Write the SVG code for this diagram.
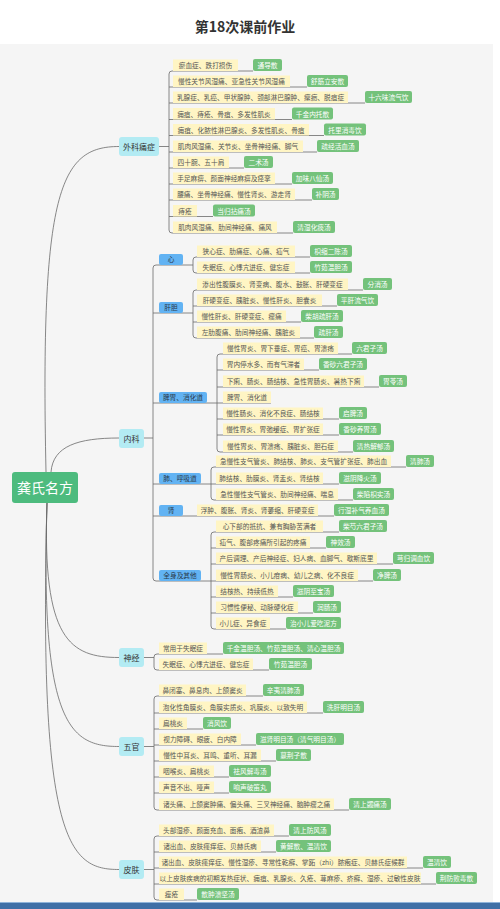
<svg xmlns="http://www.w3.org/2000/svg" width="500" height="909" viewBox="0 0 500 909">
<style>
.f{font-family:"Noto Sans CJK SC","Noto Sans",sans-serif}
.ly{fill:#fff5c4}
.lg{fill:#74c27b}
.nb{fill:#62b3f3}
.nc{fill:#b3ebf3}
.t{font-size:6.7px;fill:#555555;text-anchor:middle}
.tw{font-size:6.7px;fill:#ffffff;text-anchor:middle}
.tc{font-size:8px;fill:#333;text-anchor:middle}
.tb{font-size:6.7px;fill:#2a3a4a;text-anchor:middle}
.cn{fill:none;stroke:#6a6a6a;stroke-width:0.8}
</style>
<rect x="0" y="0" width="500" height="909" fill="#ffffff"/>
<rect x="0" y="44" width="493" height="858" fill="#f5f5f5"/>
<rect x="0" y="902" width="500" height="7" fill="#3f6fa6"/>
<rect x="0" y="902" width="500" height="1" fill="#8fb3d9"/>
<text class="f" x="245" y="32" font-size="14" font-weight="bold" fill="#333" text-anchor="middle">第18次课前作业</text>

<g id="connectors" class="cn">
<path d="M46 472 C40 190 60 146.5 119 146.5"/>
<path d="M51 472 C53 446 78 438 119 438"/>
<path d="M47 503 C42 640 70 657.5 119 657.5"/>
<path d="M47 503 C40 725 70 746.5 119 746.5"/>
<path d="M47 503 C38 845 70 869.5 119 869.5"/>
<path d="M159 146.5 H169"/>
<path d="M172 71 Q169 71 169 74 V230 Q169 233 172 233"/>
<path d="M172 71 H253 M169 87 H307 M169 103 H365 M169 119.5 H292 M169 135.5 H324 M169 152 H317 M169 168 H244 M169 184 H292 M169 200 H312 M169 216.5 H213 M172 233 H293"/>
<path d="M144 438 H153"/>
<path d="M156 265 Q153 265 153 268 V578 Q153 581 156 581"/>
<path d="M156 265 H193 M153 313 H193 M153 403 H217 M153 484 H211 M153 516 H334 M156 581 H211"/>
<path d="M196 257 Q193 257 193 260 V270 Q193 273 196 273 M196 257 H310 M196 273 H310"/>
<path d="M196 290 Q193 290 193 293 V335 Q193 338 196 338 M196 290 H363 M193 306 H337 M193 322 H301 M196 338 H314"/>
<path d="M220 354 Q217 354 217 357 V449 Q217 452 220 452 M220 354 H352 M217 370 H319 M217 387 H379 M217 403 H271 M217 419 H339 M217 435 H339 M220 452 H353"/>
<path d="M214 467 Q211 467 211 470 V497 Q211 500 214 500 M214 467 H406 M211 484 H339 M214 500 H353"/>
<path d="M214 532 Q211 532 211 535 V626 Q211 629 214 629 M214 532 H339 M211 548 H326 M211 564 H393 M211 581 H373 M211 597 H293 M211 613 H313 M214 629 H286"/>
<path d="M144 657.5 H154"/>
<path d="M157 654 Q154 654 154 657 V667 Q154 670 157 670 M157 654 H223 M157 670 H269"/>
<path d="M144 746.5 H154"/>
<path d="M157 696 Q154 696 154 699 V807 Q154 810 157 810 M157 696 H263 M154 713 H323 M154 729 H203 M154 745 H256 M154 761 H276 M154 777 H229 M154 793 H229 M157 810 H349"/>
<path d="M144 869.5 H154"/>
<path d="M157 836 Q154 836 154 839 V897 Q154 900 157 900 M157 836 H289 M154 852 H276 M154 868 H423 M154 884 H436 M157 900 H197"/>
</g>

<g id="root"><rect x="12" y="472" width="66" height="31" rx="3" fill="#4dbb7e"/><text class="f" x="45" y="492.5" font-size="14" fill="#fff" text-anchor="middle">龚氏名方</text></g>

<g id="cat-waike"><rect class="nc" x="119" y="137" width="40" height="19" rx="3"/><text class="f tc" x="139" y="149.5">外科痛症</text></g>
<g id="cat-neike"><rect class="nc" x="119" y="429" width="25" height="19" rx="3"/><text class="f tc" x="131.5" y="441.5">内科</text></g>
<g id="cat-shenjing"><rect class="nc" x="119" y="648" width="25" height="19" rx="3"/><text class="f tc" x="131.5" y="660.5">神经</text></g>
<g id="cat-wuguan"><rect class="nc" x="119" y="737" width="25" height="19" rx="3"/><text class="f tc" x="131.5" y="749.5">五官</text></g>
<g id="cat-pifu"><rect class="nc" x="119" y="860" width="25" height="19" rx="3"/><text class="f tc" x="131.5" y="872.5">皮肤</text></g>

<g id="sub-xin"><rect class="nb" x="159" y="254" width="24" height="11" rx="2"/><text class="f tb" x="171" y="262">心</text></g>
<g id="sub-gandan"><rect class="nb" x="159" y="302" width="24" height="11" rx="2"/><text class="f tb" x="171" y="310">肝胆</text></g>
<g id="sub-piwei"><rect class="nb" x="159" y="392" width="48" height="11" rx="2"/><text class="f tb" x="183" y="400">脾胃、消化道</text></g>
<g id="sub-fei"><rect class="nb" x="159" y="473" width="42" height="11" rx="2"/><text class="f tb" x="180" y="481">肺、呼吸道</text></g>
<g id="sub-shen"><rect class="nb" x="159" y="505" width="24" height="11" rx="2"/><text class="f tb" x="171" y="513">肾</text></g>
<g id="sub-quanshen"><rect class="nb" x="159" y="570" width="42" height="11" rx="2"/><text class="f tb" x="180" y="578">全身及其他</text></g>

<g id="w1"><rect class="ly" x="173" y="59.5" width="65" height="11.5"/><text class="f t" x="205.5" y="68">瘀血症、跌打损伤</text><rect class="lg" x="253" y="59" width="29" height="12" rx="2"/><text class="f tw" x="267.5" y="68">通导散</text></g>
<g id="w2"><rect class="ly" x="173" y="75.5" width="117" height="11.5"/><text class="f t" x="231.5" y="84">慢性关节风湿痛、亚急性关节风湿痛</text><rect class="lg" x="307" y="75" width="41" height="12" rx="2"/><text class="f tw" x="327.5" y="84">舒筋立安散</text></g>
<g id="w3"><rect class="ly" x="173" y="91.5" width="175" height="11.5"/><text class="f t" x="260.5" y="100">乳腺症、乳癌、甲状腺肿、颈部淋巴腺肿、瘰疬、脱疽症</text><rect class="lg" x="365" y="91" width="47" height="12" rx="2"/><text class="f tw" x="388.5" y="100">十六味流气饮</text></g>
<g id="w4"><rect class="ly" x="173" y="108" width="102" height="11.5"/><text class="f t" x="224" y="116.5">痈疽、痔疮、骨疽、多发性肌炎</text><rect class="lg" x="292" y="107.5" width="41" height="12" rx="2"/><text class="f tw" x="312.5" y="116.5">千金内托散</text></g>
<g id="w5"><rect class="ly" x="173" y="124" width="136" height="11.5"/><text class="f t" x="241" y="132.5">痈疽、化脓性淋巴腺炎、多发性肌炎、骨疽</text><rect class="lg" x="324" y="123.5" width="42" height="12" rx="2"/><text class="f tw" x="345" y="132.5">托里消毒饮</text></g>
<g id="w6"><rect class="ly" x="173" y="140.5" width="130" height="11.5"/><text class="f t" x="238" y="149">肌肉风湿痛、关节炎、坐骨神经痛、脚气</text><rect class="lg" x="317" y="140" width="42" height="12" rx="2"/><text class="f tw" x="338" y="149">疏经活血汤</text></g>
<g id="w7"><rect class="ly" x="173" y="156.5" width="56" height="11.5"/><text class="f t" x="201" y="165">四十腕、五十肩</text><rect class="lg" x="244" y="156" width="29" height="12" rx="2"/><text class="f tw" x="258.5" y="165">二术汤</text></g>
<g id="w8"><rect class="ly" x="173" y="172.5" width="102" height="11.5"/><text class="f t" x="224" y="181">手足麻痹、颜面神经麻痹及痉挛</text><rect class="lg" x="292" y="172" width="41" height="12" rx="2"/><text class="f tw" x="312.5" y="181">加味八仙汤</text></g>
<g id="w9"><rect class="ly" x="173" y="188.5" width="122" height="11.5"/><text class="f t" x="234" y="197">腰痛、坐骨神经痛、慢性肾炎、游走肾</text><rect class="lg" x="312" y="188" width="27" height="12" rx="2"/><text class="f tw" x="325.5" y="197">补阴汤</text></g>
<g id="w10"><rect class="ly" x="173" y="205" width="24" height="11.5"/><text class="f t" x="185" y="213.5">痔疮</text><rect class="lg" x="213" y="204.5" width="42" height="12" rx="2"/><text class="f tw" x="234" y="213.5">当归拈痛汤</text></g>
<g id="w11"><rect class="ly" x="173" y="221.5" width="104" height="11.5"/><text class="f t" x="225" y="230">肌肉风湿痛、肋间神经痛、痛风</text><rect class="lg" x="293" y="221" width="42" height="12" rx="2"/><text class="f tw" x="314" y="230">清湿化痰汤</text></g>

<g id="x1"><rect class="ly" x="197" y="245.5" width="98" height="11.5"/><text class="f t" x="246" y="254">狭心症、肋痛症、心痛、疝气</text><rect class="lg" x="310" y="245" width="42" height="12" rx="2"/><text class="f tw" x="331" y="254">枳缩二陈汤</text></g>
<g id="x2"><rect class="ly" x="197" y="261.5" width="98" height="11.5"/><text class="f t" x="246" y="270">失眠症、心悸亢进症、健忘症</text><rect class="lg" x="310" y="261" width="42" height="12" rx="2"/><text class="f tw" x="331" y="270">竹茹温胆汤</text></g>
<g id="g1"><rect class="ly" x="197" y="278.5" width="151" height="11.5"/><text class="f t" x="272.5" y="287">渗出性腹膜炎、肾变病、腹水、鼓胀、肝硬变症</text><rect class="lg" x="363" y="278" width="29" height="12" rx="2"/><text class="f tw" x="377.5" y="287">分消汤</text></g>
<g id="g2"><rect class="ly" x="197" y="294.5" width="125" height="11.5"/><text class="f t" x="259.5" y="303">肝硬变症、胰脏炎、慢性肝炎、胆囊炎</text><rect class="lg" x="337" y="294" width="41" height="12" rx="2"/><text class="f tw" x="357.5" y="303">平肝流气饮</text></g>
<g id="g3"><rect class="ly" x="197" y="310.5" width="89" height="11.5"/><text class="f t" x="241.5" y="319">慢性肝炎、肝硬变症、瘤痛</text><rect class="lg" x="301" y="310" width="42" height="12" rx="2"/><text class="f tw" x="322" y="319">柴胡疏肝汤</text></g>
<g id="g4"><rect class="ly" x="197" y="326.5" width="103" height="11.5"/><text class="f t" x="248.5" y="335">左肋腹痛、肋间神经痛、胰脏炎</text><rect class="lg" x="314" y="326" width="29" height="12" rx="2"/><text class="f tw" x="328.5" y="335">疏肝汤</text></g>
<g id="p1"><rect class="ly" x="223" y="342.5" width="115" height="11.5"/><text class="f t" x="280.5" y="351">慢性胃炎、胃下垂症、胃癌、胃溃疡</text><rect class="lg" x="352" y="342" width="35" height="12" rx="2"/><text class="f tw" x="369.5" y="351">六君子汤</text></g>
<g id="p2"><rect class="ly" x="223" y="358.5" width="81" height="11.5"/><text class="f t" x="263.5" y="367">胃内停水多、而有气滞者</text><rect class="lg" x="319" y="358" width="48" height="12" rx="2"/><text class="f tw" x="343" y="367">香砂六君子汤</text></g>
<g id="p3"><rect class="ly" x="223" y="375.5" width="141" height="11.5"/><text class="f t" x="293.5" y="384">下痢、肠炎、肠结核、急性胃肠炎、暑热下痢</text><rect class="lg" x="379" y="375" width="28" height="12" rx="2"/><text class="f tw" x="393" y="384">胃苓汤</text></g>
<g id="p4"><rect class="ly" x="223" y="391.5" width="48" height="11.5"/><text class="f t" x="247" y="400">脾胃、消化道</text></g>
<g id="p5"><rect class="ly" x="223" y="407.5" width="100" height="11.5"/><text class="f t" x="273" y="416">慢性肠炎、消化不良症、肠结核</text><rect class="lg" x="339" y="407" width="28" height="12" rx="2"/><text class="f tw" x="353" y="416">启脾汤</text></g>
<g id="p6"><rect class="ly" x="223" y="423.5" width="100" height="11.5"/><text class="f t" x="273" y="432">慢性胃炎、胃弛缓症、胃扩张症</text><rect class="lg" x="339" y="423" width="42" height="12" rx="2"/><text class="f tw" x="360" y="432">香砂养胃汤</text></g>
<g id="p7"><rect class="ly" x="223" y="440.5" width="115" height="11.5"/><text class="f t" x="280.5" y="449">慢性胃炎、胃溃疡、胰脏炎、胆石症</text><rect class="lg" x="353" y="440" width="41" height="12" rx="2"/><text class="f tw" x="373.5" y="449">清热解郁汤</text></g>
<g id="f1"><rect class="ly" x="216" y="455.5" width="175" height="11.5"/><text class="f t" x="303.5" y="464">急慢性支气管炎、肺结核、肺炎、支气管扩张症、肺出血</text><rect class="lg" x="406" y="455" width="28" height="12" rx="2"/><text class="f tw" x="420" y="464">清肺汤</text></g>
<g id="f2"><rect class="ly" x="216" y="472.5" width="107" height="11.5"/><text class="f t" x="269.5" y="481">肺结核、肋膜炎、肾盂炎、肾结核</text><rect class="lg" x="339" y="472" width="42" height="12" rx="2"/><text class="f tw" x="360" y="481">滋阴降火汤</text></g>
<g id="f3"><rect class="ly" x="216" y="488.5" width="122" height="11.5"/><text class="f t" x="277" y="497">急性慢性支气管炎、肋间神经痛、喘息</text><rect class="lg" x="353" y="488" width="41" height="12" rx="2"/><text class="f tw" x="373.5" y="497">柴陷枳实汤</text></g>
<g id="s1"><rect class="ly" x="197" y="504.5" width="121" height="11.5"/><text class="f t" x="257.5" y="513">浮肿、腹胀、肾炎、肾萎缩、肝硬变症</text><rect class="lg" x="334" y="504" width="55" height="12" rx="2"/><text class="f tw" x="361.5" y="513">行湿补气养血汤</text></g>
<g id="q1"><rect class="ly" x="216" y="520.5" width="107" height="11.5"/><text class="f t" x="269.5" y="529">心下部的抵抗、兼有胸胁苦满者</text><rect class="lg" x="339" y="520" width="48" height="12" rx="2"/><text class="f tw" x="363" y="529">柴芍六君子汤</text></g>
<g id="q2"><rect class="ly" x="216" y="536.5" width="94" height="11.5"/><text class="f t" x="263" y="545">疝气、腹部疼痛所引起的疼痛</text><rect class="lg" x="326" y="536" width="29" height="12" rx="2"/><text class="f tw" x="340.5" y="545">神效汤</text></g>
<g id="q3"><rect class="ly" x="216" y="552.5" width="161" height="11.5"/><text class="f t" x="296.5" y="561">产后调理、产后神经症、妇人病、血脚气、歇斯底里</text><rect class="lg" x="393" y="552" width="41" height="12" rx="2"/><text class="f tw" x="413.5" y="561">芎归调血饮</text></g>
<g id="q4"><rect class="ly" x="216" y="569.5" width="142" height="11.5"/><text class="f t" x="287" y="578">慢性胃肠炎、小儿疳病、幼儿之病、化不良症</text><rect class="lg" x="373" y="569" width="28" height="12" rx="2"/><text class="f tw" x="387" y="578">净脾汤</text></g>
<g id="q5"><rect class="ly" x="216" y="585.5" width="62" height="11.5"/><text class="f t" x="247" y="594">结核热、持续低热</text><rect class="lg" x="293" y="585" width="41" height="12" rx="2"/><text class="f tw" x="313.5" y="594">滋阴至宝汤</text></g>
<g id="q6"><rect class="ly" x="216" y="601.5" width="82" height="11.5"/><text class="f t" x="257" y="610">习惯性便秘、动脉硬化症</text><rect class="lg" x="313" y="601" width="28" height="12" rx="2"/><text class="f tw" x="327" y="610">润肠汤</text></g>
<g id="q7"><rect class="ly" x="216" y="617.5" width="54" height="11.5"/><text class="f t" x="243" y="626">小儿症、异食症</text><rect class="lg" x="286" y="617" width="55" height="12" rx="2"/><text class="f tw" x="313.5" y="626">治小儿爱吃泥方</text></g>
<g id="j1"><rect class="ly" x="159" y="642.5" width="48" height="11.5"/><text class="f t" x="183" y="651">常用于失眠症</text><rect class="lg" x="223" y="642" width="121" height="12" rx="2"/><text class="f tw" x="283.5" y="651">千金温胆汤、竹茹温胆汤、清心温胆汤</text></g>
<g id="j2"><rect class="ly" x="159" y="658.5" width="94" height="11.5"/><text class="f t" x="206" y="667">失眠症、心悸亢进症、健忘症</text><rect class="lg" x="269" y="658" width="43" height="12" rx="2"/><text class="f tw" x="290.5" y="667">竹茹温胆汤</text></g>
<g id="o1"><rect class="ly" x="159" y="684.5" width="87" height="11.5"/><text class="f t" x="202.5" y="693">鼻闭塞、鼻息肉、上颌窦炎</text><rect class="lg" x="263" y="684" width="41" height="12" rx="2"/><text class="f tw" x="283.5" y="693">辛夷清肺汤</text></g>
<g id="o2"><rect class="ly" x="159" y="701.5" width="148" height="11.5"/><text class="f t" x="233" y="710">泡化性角膜炎、角膜实质炎、巩膜炎、以致失明</text><rect class="lg" x="323" y="701" width="41" height="12" rx="2"/><text class="f tw" x="343.5" y="710">洗肝明目汤</text></g>
<g id="o3"><rect class="ly" x="159" y="717.5" width="28" height="11.5"/><text class="f t" x="173" y="726">扁桃炎</text><rect class="lg" x="203" y="717" width="28" height="12" rx="2"/><text class="f tw" x="217" y="726">消风饮</text></g>
<g id="o4"><rect class="ly" x="159" y="733.5" width="82" height="11.5"/><text class="f t" x="200" y="742">视力障碍、眼疲、白内障</text><rect class="lg" x="256" y="733" width="88" height="12" rx="2"/><text class="f tw" x="300" y="742">滋肾明目汤（清气明目汤）</text></g>
<g id="o5"><rect class="ly" x="159" y="749.5" width="102" height="11.5"/><text class="f t" x="210" y="758">慢性中耳炎、耳鸣、重听、耳漏</text><rect class="lg" x="276" y="749" width="35" height="12" rx="2"/><text class="f tw" x="293.5" y="758">蔓荆子散</text></g>
<g id="o6"><rect class="ly" x="159" y="765.5" width="55" height="11.5"/><text class="f t" x="186.5" y="774">咽喉炎、扁桃炎</text><rect class="lg" x="229" y="765" width="42" height="12" rx="2"/><text class="f tw" x="250" y="774">祛风解毒汤</text></g>
<g id="o7"><rect class="ly" x="159" y="781.5" width="55" height="11.5"/><text class="f t" x="186.5" y="790">声音不出、哑声</text><rect class="lg" x="229" y="781" width="42" height="12" rx="2"/><text class="f tw" x="250" y="790">响声破笛丸</text></g>
<g id="o8"><rect class="ly" x="159" y="798.5" width="175" height="11.5"/><text class="f t" x="246.5" y="807">诸头痛、上颌窦肿痛、偏头痛、三叉神经痛、脑肿瘤之痛</text><rect class="lg" x="349" y="798" width="42" height="12" rx="2"/><text class="f tw" x="370" y="807">清上蠲痛汤</text></g>
<g id="k1"><rect class="ly" x="159" y="824.5" width="115" height="11.5"/><text class="f t" x="216.5" y="833">头部湿疹、颜面充血、面疱、酒渣鼻</text><rect class="lg" x="289" y="824" width="42" height="12" rx="2"/><text class="f tw" x="310" y="833">清上防风汤</text></g>
<g id="k2"><rect class="ly" x="159" y="840.5" width="102" height="11.5"/><text class="f t" x="210" y="849">诸出血、皮肤瘙痒症、贝赫氏病</text><rect class="lg" x="276" y="840" width="55" height="12" rx="2"/><text class="f tw" x="303.5" y="849">黄解散、温清饮</text></g>
<g id="k3"><rect class="ly" x="159" y="856.5" width="248" height="11.5"/><text class="f t" x="283" y="865">诸出血、皮肤瘙痒症、慢性湿疹、寻常性乾癣、掌跖（zhi）脓疱症、贝赫氏症候群</text><rect class="lg" x="423" y="856" width="28" height="12" rx="2"/><text class="f tw" x="437" y="865">温清饮</text></g>
<g id="k4"><rect class="ly" x="159" y="872.5" width="262" height="11.5"/><text class="f t" x="290" y="881">以上皮肤疾病的初期发热症状、痈疽、乳腺炎、久疮、荨麻疹、疥癣、湿疹、过敏性皮肤</text><rect class="lg" x="436" y="872" width="41" height="12" rx="2"/><text class="f tw" x="456.5" y="881">荆防败毒散</text></g>
<g id="k5"><rect class="ly" x="159" y="888.5" width="25" height="11.5"/><text class="f t" x="171.5" y="897">痤疮</text><rect class="lg" x="197" y="888" width="42" height="12" rx="2"/><text class="f tw" x="218" y="897">散肿溃坚汤</text></g>
</svg>
